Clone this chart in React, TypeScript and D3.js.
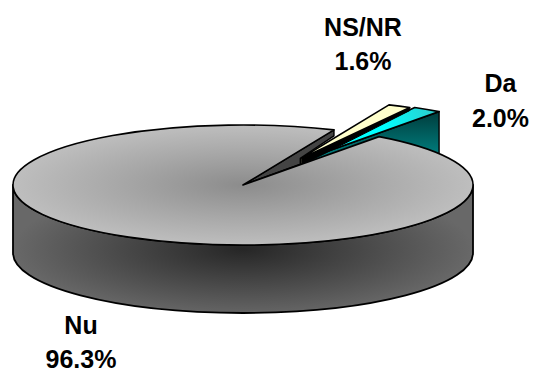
import React from "react";
import * as d3 from "d3";

const categories = ["NS/NR", "Da", "Nu"];
const values = [1.6, 2.0, 96.3];
const percentLabels = ["1.6%", "2.0%", "96.3%"];

const W = 534, H = 372;
const cx = 243, cy = 185, rx = 230, ry = 60, depth = 68;
const start = (23.3 * Math.PI) / 180;
const offsets = [[55, -25], [60, -25], [0, 0]];

const labelPos = [
  { x: 363, y1: 36, y2: 70 },
  { x: 500.5, y1: 92, y2: 127 },
  { x: 81, y1: 334, y2: 368 },
];

const pie = d3.pie<number>().sort(null).value((d) => d).startAngle(start).endAngle(start + 2 * Math.PI);
const arcs = pie(values);

const pt = (a: number, ox = 0, oy = 0, f = 1): [number, number] => [
  cx + ox + f * rx * Math.sin(a),
  cy + oy - f * ry * Math.cos(a),
];
const poly = (p: [number, number][]) => p.map((q) => q.join(",")).join(" ");

const wedgePath = (a: d3.PieArcDatum<number>, o: number[]) => {
  const c = pt(0, o[0], o[1], 0);
  const s = pt(a.startAngle, o[0], o[1]);
  const e = pt(a.endAngle, o[0], o[1]);
  const large = a.endAngle - a.startAngle > Math.PI ? 1 : 0;
  return `M${c[0]},${c[1]} L${s[0]},${s[1]} A${rx},${ry} 0 ${large} 1 ${e[0]},${e[1]} Z`;
};

export default function App() {
  const [ns, da, nu] = arcs;
  const daEnd = pt(da.endAngle, offsets[1][0], offsets[1][1]);
  const daApex = pt(0, offsets[1][0], offsets[1][1], 0);
  const nsApex = pt(0, offsets[0][0], offsets[0][1], 0);
  const nsEnd = pt(ns.endAngle, offsets[0][0], offsets[0][1]);
  const nuEnd = pt(nu.endAngle);
  const centre = pt(0, 0, 0, 0);
  const wallInner = pt(nu.endAngle, 0, 0, 0.63);

  const sideD = `M${cx - rx},${cy} L${cx - rx},${cy + depth} A${rx},${ry} 0 0 0 ${cx + rx},${cy + depth} L${cx + rx},${cy} A${rx},${ry} 0 0 1 ${cx - rx},${cy} Z`;

  const wedge = (a: any, o: number[], fill: string) => (
    <path d={wedgePath(a, o)} fill={fill} stroke="#000" strokeWidth={1.6} strokeLinejoin="round" />
  );

  return (
    <svg width={W} height={H} style={{ position: "absolute", left: 0, top: 0, background: "#fff" }}>
      <defs>
        <radialGradient id="topG" gradientUnits="userSpaceOnUse" cx={0} cy={0} r={1}
          gradientTransform={`translate(${cx},${cy}) scale(${rx},${ry})`}>
          <stop offset="0" stopColor="#8c8c8c" />
          <stop offset="0.55" stopColor="#a8a8a8" />
          <stop offset="1" stopColor="#bebebe" />
        </radialGradient>
        <radialGradient id="sideG" gradientUnits="userSpaceOnUse" cx={0} cy={0} r={1}
          gradientTransform={`translate(${cx},${cy + ry + 4}) scale(${rx},${depth})`}>
          <stop offset="0" stopColor="#262626" />
          <stop offset="1" stopColor="#686868" />
        </radialGradient>
        <linearGradient id="daWall" gradientUnits="userSpaceOnUse" x1={0} x2={0} y1={daEnd[1]} y2={daEnd[1] + 45}>
          <stop offset="0" stopColor="#003c3c" />
          <stop offset="1" stopColor="#008080" />
        </linearGradient>
        <linearGradient id="daTop" gradientUnits="userSpaceOnUse" x1={daApex[0]} y1={daApex[1]} x2={daEnd[0]} y2={daEnd[1]}>
          <stop offset="0" stopColor="#00ffff" />
          <stop offset="0.6" stopColor="#00ffff" />
          <stop offset="1" stopColor="#30c8c8" />
        </linearGradient>
      </defs>

      {/* exploded slices */}
      <polygon points={poly([daApex, daEnd, [daEnd[0], daEnd[1] + depth], [daApex[0], daApex[1] + depth]])}
        fill="url(#daWall)" stroke="#000" strokeWidth={1.4} />
      {wedge(da, offsets[1], "url(#daTop)")}
      <polygon points={poly([nsApex, nsEnd, [nsEnd[0], nsEnd[1] + 3], [nsApex[0], nsApex[1] + 7]])} fill="#000" stroke="#000" strokeWidth={1} />
      {wedge(ns, offsets[0], "#ffffcc")}
      <rect x={nsApex[0] - 2} y={nsApex[1] - 2} width={6} height={8} fill="#77775f" stroke="#000" strokeWidth={1.4} />

      {/* main slice */}
      <path d={sideD} fill="url(#sideG)" stroke="#000" strokeWidth={1.8} strokeLinejoin="round" />
      <polygon
        points={poly([centre, nuEnd, [nuEnd[0], nuEnd[1] + 6], [wallInner[0], wallInner[1] + 8], [wallInner[0], wallInner[1] + 14]])}
        fill="#444" stroke="#000" strokeWidth={1.4} strokeLinejoin="round" />
      {wedge(nu, offsets[2], "url(#topG)")}

      {/* labels */}
      {categories.map((c, i) => (
        <g key={c} fontFamily="'Liberation Sans', Arial, sans-serif" fontWeight="bold" fontSize={25} textAnchor="middle" fill="#000">
          <text x={labelPos[i].x} y={labelPos[i].y1}>{c}</text>
          <text x={labelPos[i].x} y={labelPos[i].y2}>{percentLabels[i]}</text>
        </g>
      ))}
    </svg>
  );
}
